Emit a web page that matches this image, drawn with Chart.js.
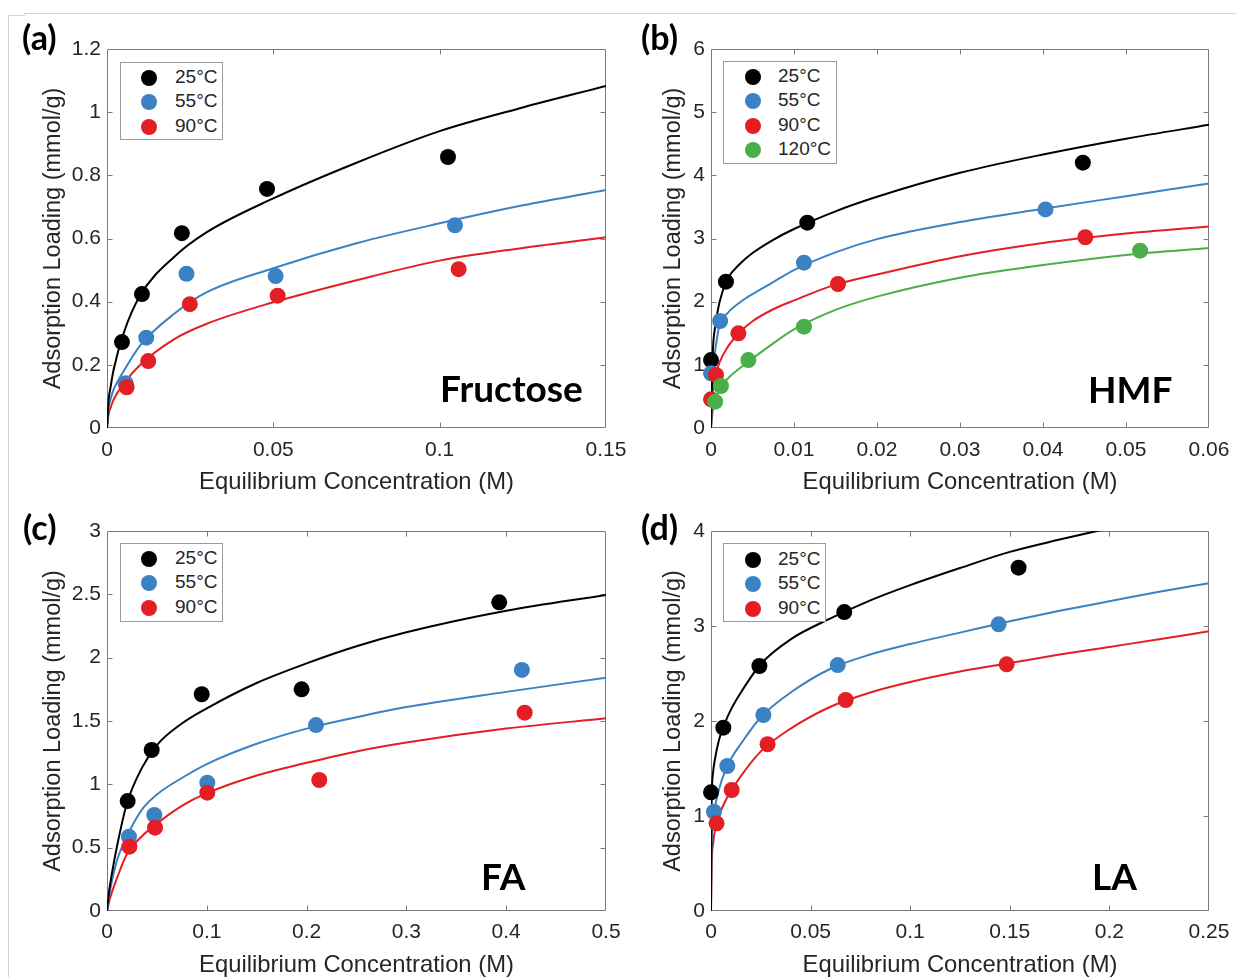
<!DOCTYPE html>
<html>
<head>
<meta charset="utf-8">
<script src="https://cdn.jsdelivr.net/npm/chart.js@4.4.1/dist/chart.umd.min.js"></script>
<style>
html,body{margin:0;padding:0;background:#fff;}
#fig{position:relative;width:1236px;height:977px;overflow:hidden;background:#fff;}
#fig canvas{position:absolute;}
.plabel{position:absolute;font-family:Lato,'Open Sans',sans-serif;font-weight:700;color:#000;line-height:1;white-space:nowrap;}
.legend{position:absolute;background:#fff;border:1px solid #9a9a9a;box-sizing:border-box;}
.legend .dot{position:absolute;width:16px;height:16px;border-radius:50%;}
.legend .txt{position:absolute;font-family:'Liberation Sans',Arial,sans-serif;font-size:19px;line-height:20px;color:#262626;white-space:nowrap;}
.hline{position:absolute;height:1px;background:#d2d2d2;}
.vline{position:absolute;width:1px;background:#d2d2d2;}
</style>
</head>
<body>
<div id="fig">
  <div class="hline" style="left:24px;top:13px;width:1212px;"></div>
  <div class="hline" style="left:8px;top:15px;width:17px;"></div>
  <div class="vline" style="left:8px;top:15px;height:962px;"></div>
  <canvas id="ca" width="660" height="500" style="left:0px;top:0px;"></canvas>
  <canvas id="cb" width="660" height="500" style="left:616px;top:0px;"></canvas>
  <canvas id="cc" width="660" height="490" style="left:0px;top:489px;"></canvas>
  <canvas id="cd" width="660" height="490" style="left:616px;top:489px;"></canvas>
</div>
<script>
// ================= DATA =================
const tempLabels = ['25°C', '55°C', '90°C', '120°C'];
const xTitle = 'Equilibrium Concentration (M)';
const yTitle = 'Adsorption Loading (mmol/g)';
const panelTags = ['(a)', '(b)', '(c)', '(d)'];
const compounds = ['Fructose', 'HMF', 'FA', 'LA'];

// (a) Fructose
const aXTicks = [0, 0.05, 0.1, 0.15];
const aXTickLabels = ['0', '0.05', '0.1', '0.15'];
const aYTicks = [0, 0.2, 0.4, 0.6, 0.8, 1, 1.2];
const aYTickLabels = ['0', '0.2', '0.4', '0.6', '0.8', '1', '1.2'];
const aX25 = [0.0045, 0.0105, 0.0225, 0.0481, 0.1025];
const aY25 = [0.272, 0.424, 0.617, 0.757, 0.858];
const aX55 = [0.0056, 0.0118, 0.0239, 0.0507, 0.1046];
const aY55 = [0.142, 0.286, 0.488, 0.481, 0.642];
const aX90 = [0.0059, 0.0124, 0.0249, 0.0513, 0.1057];
const aY90 = [0.129, 0.212, 0.392, 0.419, 0.503];
const aFitX  = [0, 0.0005, 0.001, 0.002, 0.005, 0.01, 0.02, 0.03, 0.05, 0.075, 0.1, 0.125, 0.15];
const aFit25 = [0, 0.09, 0.125, 0.185, 0.30, 0.42, 0.54, 0.62, 0.727, 0.84, 0.94, 1.015, 1.083];
const aFit55 = [0, 0.065, 0.088, 0.122, 0.18, 0.262, 0.36, 0.43, 0.506, 0.585, 0.648, 0.705, 0.754];
const aFit90 = [0, 0.045, 0.062, 0.09, 0.14, 0.20, 0.28, 0.33, 0.398, 0.468, 0.53, 0.57, 0.604];

// (b) HMF
const bXTicks = [0, 0.01, 0.02, 0.03, 0.04, 0.05, 0.06];
const bXTickLabels = ['0', '0.01', '0.02', '0.03', '0.04', '0.05', '0.06'];
const bYTicks = [0, 1, 2, 3, 4, 5, 6];
const bYTickLabels = ['0', '1', '2', '3', '4', '5', '6'];
const bX25 = [0, 0.0018, 0.0116, 0.0448];
const bY25 = [1.076, 2.316, 3.25, 4.20];
const bX55 = [0, 0.0011, 0.0112, 0.0403];
const bY55 = [0.866, 1.694, 2.617, 3.46];
const bX90 = [0, 0.0006, 0.0033, 0.0153, 0.0451];
const bY90 = [0.454, 0.839, 1.499, 2.28, 3.02];
const bX120 = [0.0005, 0.0012, 0.0045, 0.0112, 0.0517];
const bY120 = [0.417, 0.665, 1.076, 1.604, 2.807];
const bFitX   = [0, 0.0002, 0.0005, 0.001, 0.002, 0.0035, 0.005, 0.0075, 0.01, 0.015, 0.02, 0.03, 0.04, 0.05, 0.06];
const bFit25  = [0, 1.15, 1.6, 1.98, 2.36, 2.6, 2.77, 2.98, 3.15, 3.43, 3.66, 4.04, 4.33, 4.58, 4.80];
const bFit55  = [0, 0.9, 1.22, 1.62, 1.82, 1.99, 2.12, 2.31, 2.5, 2.78, 2.99, 3.26, 3.47, 3.67, 3.87];
const bFit90  = [0, 0.55, 0.8, 1.03, 1.28, 1.52, 1.69, 1.88, 2.02, 2.27, 2.43, 2.72, 2.93, 3.08, 3.19];
const bFit120 = [0, 0.27, 0.43, 0.6, 0.78, 0.95, 1.1, 1.34, 1.56, 1.87, 2.08, 2.38, 2.58, 2.74, 2.85];

// (c) FA
const cXTicks = [0, 0.1, 0.2, 0.3, 0.4, 0.5];
const cXTickLabels = ['0', '0.1', '0.2', '0.3', '0.4', '0.5'];
const cYTicks = [0, 0.5, 1, 1.5, 2, 2.5, 3];
const cYTickLabels = ['0', '0.5', '1', '1.5', '2', '2.5', '3'];
const cX25 = [0.0207, 0.0448, 0.0949, 0.195, 0.393];
const cY25 = [0.868, 1.271, 1.711, 1.750, 2.437];
const cX55 = [0.022, 0.0474, 0.1005, 0.2094, 0.4157];
const cY55 = [0.587, 0.758, 1.013, 1.468, 1.903];
const cX90 = [0.0224, 0.0481, 0.1005, 0.2127, 0.4185];
const cY90 = [0.508, 0.658, 0.934, 1.034, 1.566];
const cFitX  = [0, 0.002, 0.005, 0.01, 0.02, 0.035, 0.05, 0.075, 0.1, 0.15, 0.2, 0.25, 0.3, 0.4, 0.5];
const cFit25 = [0, 0.15, 0.30, 0.51, 0.85, 1.13, 1.31, 1.48, 1.60, 1.80, 1.955, 2.09, 2.2, 2.37, 2.495];
const cFit55 = [0, 0.11, 0.24, 0.40, 0.59, 0.80, 0.92, 1.05, 1.16, 1.32, 1.44, 1.53, 1.61, 1.73, 1.842];
const cFit90 = [0, 0.07, 0.15, 0.26, 0.45, 0.59, 0.69, 0.83, 0.93, 1.07, 1.17, 1.26, 1.33, 1.44, 1.521];

// (d) LA
const dXTicks = [0, 0.05, 0.1, 0.15, 0.2, 0.25];
const dXTickLabels = ['0', '0.05', '0.1', '0.15', '0.2', '0.25'];
const dYTicks = [0, 1, 2, 3, 4];
const dYTickLabels = ['0', '1', '2', '3', '4'];
const dX25 = [0, 0.0062, 0.0243, 0.0669, 0.1544];
const dY25 = [1.249, 1.93, 2.579, 3.147, 3.614];
const dX55 = [0.0015, 0.0082, 0.0263, 0.0636, 0.1444];
const dY55 = [1.045, 1.526, 2.063, 2.589, 3.018];
const dX90 = [0.0028, 0.0104, 0.0284, 0.0676, 0.1484];
const dY90 = [0.923, 1.274, 1.755, 2.221, 2.597];
const dFitX  = [0, 0.0003, 0.001, 0.002, 0.004, 0.007, 0.01, 0.015, 0.025, 0.04, 0.06, 0.08, 0.1, 0.125, 0.15, 0.175, 0.2, 0.225, 0.25];
const dFit25 = [0, 1.1, 1.45, 1.6, 1.8, 1.98, 2.12, 2.3, 2.6, 2.86, 3.08, 3.27, 3.43, 3.61, 3.78, 3.91, 4.03, 4.15, 4.26];
const dFit55 = [0, 0.75, 0.98, 1.1, 1.28, 1.47, 1.6, 1.76, 2.04, 2.3, 2.55, 2.7, 2.81, 2.93, 3.05, 3.16, 3.26, 3.36, 3.45];
const dFit90 = [0, 0.5, 0.7, 0.85, 1.0, 1.15, 1.26, 1.42, 1.68, 1.92, 2.15, 2.3, 2.41, 2.52, 2.61, 2.7, 2.78, 2.86, 2.944];

// ================= STYLE =================
const seriesColors = ['#000000', '#3B82C4', '#E31E24', '#4AAE4A'];
const textColor = '#262626';
const axisColor = '#7a7a7a';
const sansFamily = "'Liberation Sans', Arial, sans-serif";

const pts = (xs, ys) => xs.map((x, i) => ({x: x, y: ys[i]}));

const boxPlugin = {
  id: 'matlabBox',
  beforeDatasetsDraw(chart) {
    const {ctx, chartArea: a, scales: {x, y}} = chart;
    const L = Math.round(a.left) + 0.5, R = Math.round(a.right) - 0.5;
    const T = Math.round(a.top) + 0.5, B = Math.round(a.bottom) - 0.5;
    const len = 5;
    ctx.save();
    ctx.strokeStyle = axisColor;
    ctx.lineWidth = 1;
    ctx.beginPath();
    ctx.rect(L, T, R - L, B - T);
    x.ticks.forEach(t => {
      const px = Math.round(x.getPixelForValue(t.value)) + 0.5;
      if (px <= L + 1 || px >= R - 1) return;
      ctx.moveTo(px, B); ctx.lineTo(px, B - len);
      ctx.moveTo(px, T); ctx.lineTo(px, T + len);
    });
    y.ticks.forEach(t => {
      const py = Math.round(y.getPixelForValue(t.value)) + 0.5;
      if (py <= T + 1 || py >= B - 1) return;
      ctx.moveTo(L, py); ctx.lineTo(L + len, py);
      ctx.moveTo(R, py); ctx.lineTo(R - len, py);
    });
    ctx.stroke();
    ctx.restore();
  }
};

function makePanel(p) {
  const datasets = [];
  p.fits.forEach((f, i) => {
    datasets.push({
      type: 'line', data: pts(p.fitX, f), borderColor: seriesColors[i], backgroundColor: seriesColors[i],
      borderWidth: 2, pointRadius: 0, pointHoverRadius: 0, fill: false, showLine: true,
      cubicInterpolationMode: 'monotone', order: 10
    });
  });
  p.series.forEach((s, i) => {
    datasets.push({
      type: 'scatter', label: tempLabels[i], data: pts(s[0], s[1]),
      backgroundColor: seriesColors[i], borderColor: seriesColors[i], borderWidth: 0,
      pointRadius: 8, pointHoverRadius: 8, showLine: false, clip: false, order: 5 - i
    });
  });
  const canvas = document.getElementById(p.id);
  const W = canvas.width, H = canvas.height;
  new Chart(canvas.getContext('2d'), {
    type: 'scatter',
    data: {datasets: datasets},
    options: {
      responsive: false, animation: false, devicePixelRatio: 1, events: [],
      layout: {padding: {left: 0, top: p.area.t, right: W - p.area.r, bottom: 0}, autoPadding: false},
      plugins: {legend: {display: false}, tooltip: {enabled: false}},
      scales: {
        x: {
          type: 'linear', position: 'bottom', min: p.xTicks[0], max: p.xTicks[p.xTicks.length - 1],
          afterBuildTicks: s => { s.ticks = p.xTicks.map(v => ({value: v})); },
          afterFit: s => { s.height = H - p.area.b; },
          grid: {display: false, drawTicks: false}, border: {display: false},
          ticks: {autoSkip: false, maxRotation: 0, padding: p.xTickPad, color: textColor,
                  font: {family: sansFamily, size: 21},
                  callback: (v, i) => p.xTickLabels[i]},
          title: {display: true, text: xTitle, color: textColor,
                  font: {family: sansFamily, size: 23.8, lineHeight: 1},
                  padding: {top: 0, bottom: p.xTitlePad}}
        },
        y: {
          type: 'linear', position: 'left', min: p.yTicks[0], max: p.yTicks[p.yTicks.length - 1],
          afterBuildTicks: s => { s.ticks = p.yTicks.map(v => ({value: v})); },
          afterFit: s => { s.width = p.area.l; },
          grid: {display: false, drawTicks: false}, border: {display: false},
          ticks: {autoSkip: false, padding: 6, color: textColor,
                  font: {family: sansFamily, size: 21},
                  callback: (v, i) => p.yTickLabels[i]},
          title: {display: true, text: yTitle, color: textColor,
                  font: {family: sansFamily, size: 23.5, lineHeight: 1},
                  padding: {top: p.yTitlePad, bottom: 0}}
        }
      }
    },
    plugins: [boxPlugin]
  });
}

makePanel({id: 'ca', area: {l: 107, t: 49, r: 606, b: 428}, xTickPad: 9.4, xTitlePad: 6, yTitlePad: 41.5,
  xTicks: aXTicks, xTickLabels: aXTickLabels, yTicks: aYTicks, yTickLabels: aYTickLabels,
  series: [[aX25, aY25], [aX55, aY55], [aX90, aY90]], fitX: aFitX, fits: [aFit25, aFit55, aFit90]});
makePanel({id: 'cb', area: {l: 95, t: 49, r: 593, b: 428}, xTickPad: 9.4, xTitlePad: 6, yTitlePad: 45.5,
  xTicks: bXTicks, xTickLabels: bXTickLabels, yTicks: bYTicks, yTickLabels: bYTickLabels,
  series: [[bX25, bY25], [bX55, bY55], [bX90, bY90], [bX120, bY120]], fitX: bFitX, fits: [bFit25, bFit55, bFit90, bFit120]});
makePanel({id: 'cc', area: {l: 107, t: 42, r: 606, b: 422}, xTickPad: 8.6, xTitlePad: 2, yTitlePad: 41.5,
  xTicks: cXTicks, xTickLabels: cXTickLabels, yTicks: cYTicks, yTickLabels: cYTickLabels,
  series: [[cX25, cY25], [cX55, cY55], [cX90, cY90]], fitX: cFitX, fits: [cFit25, cFit55, cFit90]});
makePanel({id: 'cd', area: {l: 95, t: 42, r: 593, b: 422}, xTickPad: 8.6, xTitlePad: 2, yTitlePad: 45.5,
  xTicks: dXTicks, xTickLabels: dXTickLabels, yTicks: dYTicks, yTickLabels: dYTickLabels,
  series: [[dX25, dY25], [dX55, dY55], [dX90, dY90]], fitX: dFitX, fits: [dFit25, dFit55, dFit90]});

// ================= OVERLAY TEXT (legends, labels) =================
const fig = document.getElementById('fig');
function addLegend(box, rowsY, markerX, textX, n) {
  const lg = document.createElement('div');
  lg.className = 'legend';
  lg.style.left = box[0] + 'px'; lg.style.top = box[1] + 'px';
  lg.style.width = box[2] + 'px'; lg.style.height = box[3] + 'px';
  for (let i = 0; i < n; i++) {
    const d = document.createElement('div');
    d.className = 'dot';
    d.style.background = seriesColors[i];
    d.style.left = (markerX - box[0] - 8) + 'px';
    d.style.top = (rowsY[i] - box[1] - 8) + 'px';
    lg.appendChild(d);
    const t = document.createElement('div');
    t.className = 'txt';
    t.textContent = tempLabels[i];
    t.style.left = (textX - box[0] - 1) + 'px';
    t.style.top = (rowsY[i] - box[1] - 11) + 'px';
    lg.appendChild(t);
  }
  fig.appendChild(lg);
}
addLegend([120, 62, 103, 78], [76.7, 101, 126], 148.3, 175, 3);
addLegend([723, 61, 114, 103], [76, 100, 125, 149.3], 751.7, 778, 4);
addLegend([120, 543, 103, 79], [558.3, 582.3, 606.7], 148.3, 175, 3);
addLegend([723, 543, 103, 79], [559.3, 583.3, 608], 751.7, 778, 3);

function addLabel(text, left, top, size) {
  const d = document.createElement('div');
  d.className = 'plabel';
  d.textContent = text;
  d.style.left = left + 'px'; d.style.top = top + 'px'; d.style.fontSize = size + 'px';
  fig.appendChild(d);
}
addLabel(panelTags[0], 22, 20, 34);
addLabel(panelTags[1], 641, 20, 34);
addLabel(panelTags[2], 23, 510, 34);
addLabel(panelTags[3], 641, 510, 34);
addLabel(compounds[0], 440, 369, 37);
addLabel(compounds[1], 1088, 370, 37);
addLabel(compounds[2], 481, 857, 37);
addLabel(compounds[3], 1092, 857, 37);
</script>
</body>
</html>
